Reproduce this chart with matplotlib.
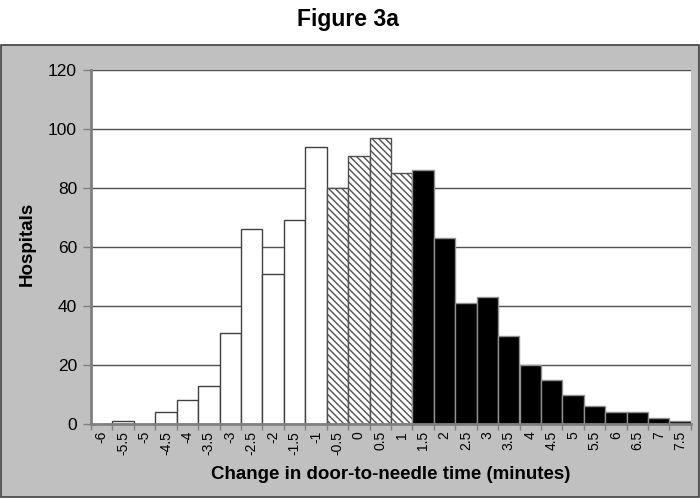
import matplotlib
matplotlib.use("Agg")
import matplotlib.pyplot as plt
from matplotlib.patches import Rectangle

# change in door-to-needle time (minutes), one bin per label
bins = ["-6", "-5.5", "-5", "-4.5", "-4", "-3.5", "-3", "-2.5", "-2", "-1.5",
        "-1", "-0.5", "0", "0.5", "1", "1.5", "2", "2.5", "3", "3.5", "4",
        "4.5", "5", "5.5", "6", "6.5", "7", "7.5"]
hospitals = [0, 1, 0, 4, 8, 13, 31, 66, 51, 69, 94, 80, 91, 97, 85,
             86, 63, 41, 43, 30, 20, 15, 10, 6, 4, 4, 2, 1]
# group of each bin: improved / unchanged / worse
group = ["white"] * 11 + ["hatch"] * 4 + ["black"] * 13

plt.rcParams["font.family"] = ["Liberation Sans", "DejaVu Sans"]
plt.rcParams["hatch.linewidth"] = 1.0
plt.rcParams["hatch.color"] = "black"

fig = plt.figure(figsize=(7, 4.99), dpi=100)
fig.patch.set_facecolor("white")

# grey chart area box
fig.patches.append(Rectangle((0.001, 0.004), 0.997, 0.905, transform=fig.transFigure,
                             facecolor="#c0c0c0", edgecolor="#404040", lw=1.2, zorder=-1))
fig.text(0.497, 0.96, "Figure 3a", ha="center", va="center", fontsize=16.5,
         fontweight="bold")

ax = fig.add_axes([0.13, 0.1503, 0.857, 0.7094])
ax.set_facecolor("white")

x = list(range(len(bins)))
for xi, h, g in zip(x, hospitals, group):
    if h == 0:
        continue
    if g == "white":
        ax.bar(xi, h, width=1.0, facecolor="white", edgecolor="#404040", lw=1.0, zorder=2)
    elif g == "hatch":
        ax.bar(xi, h, width=1.0, facecolor="white", edgecolor="#505050", lw=1.0,
               hatch="\\\\\\\\\\", zorder=2)
    else:
        ax.bar(xi, h, width=1.0, facecolor="black", edgecolor="#909090", lw=1.0, zorder=2)

ax.set_xlim(-0.5, len(bins) - 0.5)
ax.set_ylim(0, 120)
ax.set_yticks(range(0, 121, 20))
ax.yaxis.grid(True, color="#505050", lw=1.0, zorder=0)
ax.set_axisbelow(True)

ax.set_xticks(x)
ax.set_xticklabels(bins, rotation=90, fontsize=10)
ax.set_xticks([i - 0.5 for i in range(len(bins) + 1)], minor=True)
ax.tick_params(axis="x", which="major", length=0, pad=5)
ax.tick_params(axis="x", which="minor", length=4, color="#808080", width=1.0)
ax.tick_params(axis="y", length=6, color="#808080", width=1.0, labelsize=12.5, pad=4)

for s in ["top", "right"]:
    ax.spines[s].set_visible(False)
for s in ["left", "bottom"]:
    ax.spines[s].set_color("#808080")
    ax.spines[s].set_linewidth(2.0)
    ax.spines[s].set_zorder(3)

ax.set_ylabel("Hospitals", fontsize=13.5, fontweight="bold")
ax.yaxis.set_label_coords(-0.092, 0.51)
ax.set_xlabel("Change in door-to-needle time (minutes)", fontsize=13.5, fontweight="bold",
              labelpad=8)

fig.savefig("out.png", dpi=100)
